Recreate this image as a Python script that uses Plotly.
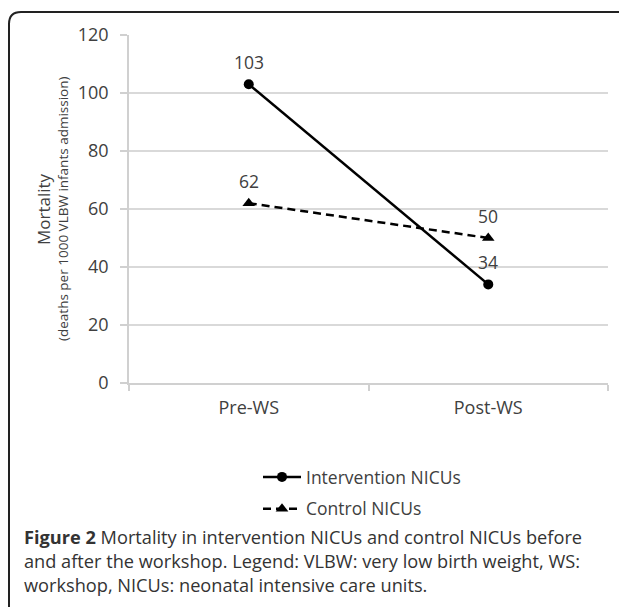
import plotly.graph_objects as go

categories = ["Pre-WS", "Post-WS"]
intervention = [103, 34]
control = [62, 50]
series_names = ["Intervention NICUs", "Control NICUs"]
y_ticks = [0, 20, 40, 60, 80, 100, 120]

# the page adds an 8px body margin, so figure coords = screen coords - 8
W, H = 627, 607
L, T = 121, 27
PLOT_RIGHT, PLOT_BOTTOM = 600, 375
R, B = W - PLOT_RIGHT, H - PLOT_BOTTOM
pw, ph = W - L - R, H - T - B

def px(x):
    return (x - L) / pw

def py(y):
    return (PLOT_BOTTOM - y) / ph

FONT = "Open Sans"
TXT = "#404040"

fig = go.Figure()
fig.add_trace(go.Scatter(
    x=categories, y=intervention, name=series_names[0], mode="lines+markers",
    line=dict(color="black", width=2.5),
    marker=dict(symbol="circle", size=10, color="black"),
    legendgroup="a",
))
fig.add_trace(go.Scatter(
    x=categories, y=control, name=series_names[1], mode="lines+markers",
    line=dict(color="black", width=2.5, dash="8px,5px"),
    marker=dict(symbol="triangle-up", size=11, color="black"),
    legendgroup="b",
))

annotations = []
for series in (intervention, control):
    for c, v in zip(categories, series):
        annotations.append(dict(x=c, y=v, xref="x", yref="y", text=str(v),
                                showarrow=False, yshift=22,
                                font=dict(family=FONT, size=17.5, color=TXT)))

annotations.append(dict(x=px(35), y=0.5, xref="paper", yref="paper",
                        xanchor="center", yanchor="middle",
                        text="Mortality", textangle=-90, showarrow=False,
                        font=dict(family=FONT, size=17, color=TXT)))
annotations.append(dict(x=px(55), y=0.5, xref="paper", yref="paper",
                        xanchor="center", yanchor="middle",
                        text="(deaths per 1000 VLBW infants admission)", textangle=-90,
                        showarrow=False, font=dict(family=FONT, size=13.5, color=TXT)))

caption_lines = [
    "<b>Figure 2</b> Mortality in intervention NICUs and control NICUs before",
    "and after the workshop. Legend: VLBW: very low birth weight, WS:",
    "workshop, NICUs: neonatal intensive care units.",
]
for i, line in enumerate(caption_lines):
    annotations.append(dict(x=px(14), y=py(529 + 24 * i), xref="paper", yref="paper",
                            xanchor="left", yanchor="middle", align="left",
                            text=line, showarrow=False,
                            font=dict(family=FONT, size=18.2, color="#333333")))

xl, xr, yt, yb, r = px(1), px(622), py(4), py(620), 12
frame = (f"M {xl},{yb} L {xl},{py(4 + r)} Q {xl},{yt} {px(1 + r)},{yt} "
         f"L {px(613)},{yt} Q {px(618)},{yt} {px(618)},{py(9)}")

fig.update_layout(
    width=W, height=H,
    margin=dict(l=L, r=R, t=T, b=B),
    paper_bgcolor="white", plot_bgcolor="white",
    font=dict(family=FONT, size=17, color=TXT),
    showlegend=True,
    legend=dict(x=px(250), y=py(451), xanchor="left", yanchor="top",
                xref="paper", yref="paper",
                font=dict(family=FONT, size=17.5, color=TXT),
                tracegroupgap=6, bgcolor="rgba(0,0,0,0)", itemwidth=38),
    xaxis=dict(type="category", range=[-0.5, 1.5], showgrid=False,
               showline=True, linecolor="#d0d0d0", linewidth=1.5,
               ticks="outside", tickson="boundaries", ticklen=6,
               tickcolor="#d0d0d0", tickwidth=1.5, ticklabelstandoff=8,
               tickfont=dict(family=FONT, size=18, color=TXT), fixedrange=True),
    yaxis=dict(range=[0, 120], tickvals=y_ticks, showgrid=True,
               gridcolor="#d9d9d9", gridwidth=1.5, zeroline=False,
               showline=True, linecolor="#d0d0d0", linewidth=1.5,
               ticks="outside", ticklen=7, tickcolor="#d0d0d0", tickwidth=1.5,
               ticklabelstandoff=8,
               tickfont=dict(family=FONT, size=18, color=TXT), fixedrange=True),
    annotations=annotations,
    shapes=[dict(type="path", path=frame, xref="paper", yref="paper",
                 line=dict(color="#222222", width=2))],
)

fig.write_html("out.html")
